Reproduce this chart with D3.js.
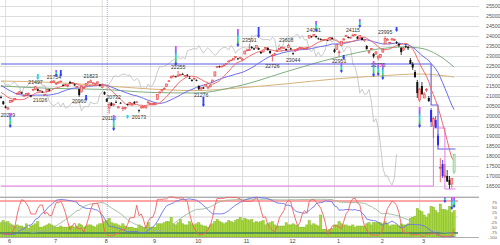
<!DOCTYPE html>
<html><head><meta charset="utf-8">
<script src="https://cdn.jsdelivr.net/npm/d3@7/dist/d3.min.js"></script>
<style>body{margin:0;background:#fff}svg{display:block}text{font-family:"Liberation Sans",Arial,sans-serif}</style>
</head><body>
<svg id="c" width="500" height="245"></svg>
<script>
// ---------- DATA ----------
const monthLabels = ["6","7","8","9","10","11","12","1","2","3"];
const monthStart  = [2,22,44,65,84,105,125,145,164,182];
const priceTicks  = [25500,25000,24500,24000,23500,23000,22500,22000,21500,21000,20500,20000,19500,19000,18500,18000,17500,17000,16500];
const gridPrices  = [25500,25000,24500,24000,23500,23000,22500,22000,21500,21000,20500,20000,19500,19000,18500,18000,17500,17000,16500,16000];
const oscTicks    = [75,50,25,0,-25,-50,-75,-100];

// closes before the visible window (for indicators)
const history = [21025,21125,21504,21290,21287,21451,21584,21567,21608,21627,20977,21428,21378,21033,21205,
21509,21505,21713,21724,21807,21761,21802,21688,21711,21870,22169,22221,22277,22090,22200,22217,22259,22200,22307,22258,
21923,21602,21402,21345,21191,21067,21189,21062,21250,21301,21272,21283,21151,21117,21182,21260,21003];

const open = [20950,20730,20470,20350,20680,20720,20830,21090,21130,21180,21010,21050,21090,21030,21300,21340,21340,21240,21220,21050,21220,21330,
21660,21700,21600,21650,21740,21540,21550,21500,21700,21640,21590,21440,21340,21200,21400,21530,21650,21680,21620,21610,21640,21570,
21430,21200,20850,20400,20660,20560,20700,20400,20660,20400,20390,20600,20600,20570,20700,20680,20300,20400,20460,20400,20660,
20600,20590,20600,20820,21150,21250,21360,21480,21720,21900,22000,21980,21990,22070,22100,22000,22060,21900,21800,
21870,21800,21500,21350,21430,21500,21400,21460,21700,22000,22460,22480,22450,22530,22600,22700,22780,22800,22920,22880,22920,
22800,23100,23290,23280,23450,23380,23400,23400,23200,23200,23400,23400,23250,23000,23100,23230,23340,23420,23400,23350,
23420,23380,23150,23250,23350,23420,23400,23380,23420,23900,23980,24000,24000,23880,23850,23820,23830,23790,23800,23900,
23320,23320,23200,23530,23800,24000,23950,23920,24000,24050,23950,23900,23900,23780,23500,23200,23330,23100,23100,
22900,22950,23200,23600,23800,23650,23800,23800,23700,23600,23400,23300,23500,23450,22800,22600,22200,21700,
20800,21500,20900,21300,20900,20300,19500,19800,19000,17400,17600,17000,17000,16800,16600,17200];
const high = [21020,20760,20530,20440,20800,20800,20900,21190,21260,21220,21080,21140,21180,21060,21360,21497,21380,21300,21260,21110,21350,21360,
21780,21784,21680,21720,21770,21600,21610,21560,21760,21700,21620,21520,21360,21480,21450,21640,21740,21823,21690,21660,21720,21600,
21590,21230,20900,20700,20700,20640,20782,20500,20700,20480,20460,20620,20700,20640,20750,20740,20330,20500,20500,20500,20720,
20650,20660,20660,21100,21230,21330,21430,21620,21800,22020,22040,22010,22255,22110,22160,22050,22100,22000,21850,
21930,21830,21540,21450,21460,21600,21500,21580,21810,22220,22500,22520,22520,22570,22650,22770,22820,22880,22990,22910,22960,
22880,23260,23340,23591,23500,23420,23520,23430,23240,23320,23450,23450,23290,23100,23160,23300,23400,23470,23460,23380,
23608,23420,23180,23320,23400,23460,23440,23420,23460,24050,24000,24091,24020,23920,23890,23850,23860,23810,23930,23950,
23370,23600,23300,23750,23900,24050,23980,23950,24115,24100,24000,24050,23950,23850,23550,23280,23400,23150,23250,
23050,23100,23350,23995,23900,23700,23900,23880,23750,23650,23450,23450,23600,23500,22900,22700,22300,21800,
21400,21700,21200,21400,21000,20400,19960,20000,19100,17900,17800,17600,17300,17000,16900,18100];
const low = [20870,20550,20380,20289,20650,20680,20780,21080,21100,21100,20950,21010,21050,20930,21250,21300,21230,21200,21160,21026,21200,21230,
21640,21660,21560,21630,21680,21490,21490,21430,21620,21590,21500,21420,20960,21180,21350,21500,21640,21660,21590,21580,21600,21480,
21400,21050,20700,20110,20500,20480,20660,20400,20620,20250,20300,20520,20580,20490,20600,20660,20173,20380,20380,20380,20600,
20560,20560,20560,20800,21130,21220,21320,21460,21690,21880,21950,21930,21980,22030,22070,21960,21970,21850,21720,
21820,21740,21300,21276,21350,21480,21350,21440,21680,21990,22420,22420,22440,22490,22570,22680,22740,22790,22890,22800,22850,
22760,23080,23240,23260,23360,23300,23370,23300,23100,23170,23370,23280,23100,22726,23000,23200,23300,23390,23380,23260,
23400,23300,23044,23200,23300,23380,23370,23350,23380,23870,23920,23990,23920,23820,23780,23790,23800,23770,23790,23820,
23150,23300,22951,23510,23790,23950,23880,23880,23990,24010,23850,23880,23780,23700,23330,23100,23300,22890,23050,
22775,22900,23150,23580,23780,23600,23780,23750,23600,23450,23050,23250,23400,23300,22600,22300,21900,20900,
20700,21080,20900,21200,20700,19450,18900,19400,18500,16690,16900,16900,16700,16358,16400,17100];
const close = [20942,20601,20410,20408,20776,20774,20884,21134,21204,21129,21032,21116,21124,20972,21333,21462,21258,21285,21193,21086,21338,21275,
21729,21754,21638,21702,21746,21534,21565,21533,21643,21685,21535,21469,21046,21466,21416,21620,21709,21756,21658,21616,21709,21521,
21540,21087,20720,20585,20516,20593,20684,20455,20655,20405,20418,20563,20677,20618,20628,20710,20261,20456,20479,20460,20704,
20620,20625,20649,21085,21199,21318,21392,21597,21759,21988,22001,21960,22044,22079,22098,22020,22048,21878,21755,
21885,21778,21341,21410,21375,21587,21456,21551,21798,22207,22472,22451,22492,22548,22625,22750,22799,22867,22974,22843,22927,
22850,23251,23303,23330,23391,23331,23520,23319,23141,23303,23416,23292,23148,23038,23112,23292,23373,23437,23409,23293,
23529,23379,23135,23300,23354,23430,23410,23391,23424,24023,23952,24066,23934,23864,23816,23821,23830,23782,23924,23837,
23204,23575,23204,23739,23850,24025,23916,23933,24041,24083,23864,24031,23795,23827,23343,23215,23379,22977,23205,
22971,23084,23319,23873,23827,23685,23861,23827,23687,23523,23193,23400,23479,23386,22605,22426,21948,21142,
21344,21082,21100,21329,20749,19698,19867,19416,18559,17431,17002,17011,16726,16552,16887,18092];
const volume = [13,15,13,14,12,11,10,11,10,10,9,12,8,10,11,12,14,9,9,10,11,12,
11,10,9,9,10,9,9,9,10,10,9,10,12,11,9,10,11,11,10,9,11,12,
12,14,15,17,13,12,12,11,10,12,10,9,9,9,8,8,11,10,9,9,13,
9,9,9,12,12,12,13,14,14,18,12,11,13,16,12,11,11,14,12,
11,12,13,11,10,10,9,11,12,14,16,14,13,12,13,15,14,13,15,16,18,
15,17,16,15,16,13,14,13,14,15,11,12,13,14,11,10,10,10,10,13,
11,11,12,11,10,9,9,9,11,15,11,12,11,10,20,7,7,6,7,8,
11,11,14,12,11,11,10,10,11,9,10,10,10,10,12,13,11,13,13,
13,13,12,14,12,10,11,11,11,10,12,11,11,12,17,18,19,26,
24,23,20,18,21,28,27,24,22,30,25,25,24,28,22,24];

// long moving averages [day index, value]
const ma75Pts  = [[0,21500],[22,21380],[44,21330],[65,21180],[84,21150],[105,21550],[125,22250],[145,22900],[164,23350],[175,23450],[182,23400],[190,23050],[197,22450]];
const ma200Pts = [[0,21750],[22,21680],[44,21520],[65,21350],[84,21270],[105,21420],[125,21620],[145,21850],[164,22000],[182,22100],[197,21950]];
// stepped channel lines [day index, value]
const bandHi = [[0,22600],[187,22600],[187,20550],[190,20550],[190,18350],[197.6,18350]];
const bandLo = [[0,16500],[188,16500],[188,19400],[193,19400],[193,16350],[197.6,16350]];
const blueCandles = [187,189,190,191,192];

// price annotations
const labIdx  = [3,15,23,39,17,34,47,49,60,77,87,108,124,118,127,136,147,153,167,164];
const labText = ["20289","21497","21754","21823","21026","20960","20110","20732","20173","22255","21276","23591","23608","22726","23044","24091","22951","24115","23995","22775"];
const labSide = ["lo","hi","hi","hi","lo","lo","lo","hi","lo","hi","lo","hi","hi","lo","lo","hi","lo","hi","hi","lo"];

// signal markers [day index, top value, bottom value, kind]
const signals = [[4,20150,19400,"r"],[49,20050,19250,"r"],[55,20050,19850,"c"],[16,22100,21800,"c"],[24,22300,21950,"r"],[26,22300,21950,"b"],
[37,21050,20750,"b"],[76,23500,22500,"r"],[88,20950,20450,"b"],[103,24350,23450,"r"],[112,24450,23900,"b"],[137,24750,24200,"r"],
[156,24850,24400,"r"],[172,24450,24200,"b"],[148,22650,22150,"r"],[149,23050,22800,"b"],[162,22750,21950,"r"],[164,22600,22000,"r"],
[166,22600,21800,"r"],[182,20450,19400,"r"]];
const oscSignals = [[193,100,70,"r"],[196,100,35,"r"],[197,100,45,"r"]];

// ---------- CHART ----------
const svg = d3.select("#c");
const N = close.length;
const x  = d3.scaleLinear().domain([0, N-1]).range([1, 454.1]);
const y  = d3.scaleLinear().domain([16000, 25500]).range([196, 6]);
const yo = d3.scaleLinear().domain([-100, 100]).range([237, 197]);
const yv = d3.scaleLinear().domain([0, 30]).range([237, 204]);

const all = history.concat(close);
const H = history.length;
function sma(n){ return close.map((_,i)=>{const t=i+H; return d3.mean(all.slice(t-n+1,t+1));}); }
function rci(n){
  return close.map((_,i)=>{
    const t=i+H; if(t-n+1<0) return null;
    const w=all.slice(t-n+1,t+1);
    const s=w.map((v,k)=>({v,k})).sort((a,b)=>b.v-a.v);
    const pr=new Array(n); let a=0;
    while(a<n){let b=a; while(b+1<n&&s[b+1].v===s[a].v) b++; const r=(a+b)/2+1; for(let q=a;q<=b;q++) pr[s[q].k]=r; a=b+1;}
    let d=0; for(let k=0;k<n;k++){const dr=n-k; d+=(dr-pr[k])**2;}
    return (1-6*d/(n*(n*n-1)))*100;
  });
}

// defs
const defs = svg.append("defs");
const g1 = defs.append("linearGradient").attr("id","rb").attr("x1",0).attr("x2",0).attr("y1",0).attr("y2",1);
[["0%","#ff40ff"],["30%","#7070ff"],["55%","#20e0e0"],["80%","#50d050"],["100%","#3040ff"]].forEach(s=>g1.append("stop").attr("offset",s[0]).attr("stop-color",s[1]));

// grid
const grid = svg.append("g");
grid.selectAll("line.h").data(gridPrices).join("line")
  .attr("x1",0).attr("x2",479).attr("y1",d=>Math.round(y(d))+0.5).attr("y2",d=>Math.round(y(d))+0.5)
  .attr("stroke","#d6d6d6").attr("stroke-width",0.8);
grid.selectAll("line.v").data(monthStart).join("line")
  .attr("x1",d=>x(d)).attr("x2",d=>x(d)).attr("y1",0).attr("y2",237)
  .attr("stroke","#d6d6d6").attr("stroke-width",0.8);
// marker vertical dotted line
svg.append("line").attr("x1",x(46)+0.5).attr("x2",x(46)+0.5).attr("y1",0).attr("y2",237)
  .attr("stroke","#9a8cff").attr("stroke-width",0.8).attr("stroke-dasharray","1,1");

// price axis labels
svg.append("g").selectAll("text").data(priceTicks).join("text")
  .attr("x",486).attr("y",d=>y(d)+2).attr("font-size",5.2).attr("fill","#555").text(d=>d);

// lines
const lineP = d3.line().defined(d=>d[1]!=null).x(d=>x(d[0])).y(d=>y(d[1]));
const curveP = d3.line().x(d=>x(d[0])).y(d=>y(d[1])).curve(d3.curveMonotoneX);
const stepP = d3.line().x(d=>x(d[0])).y(d=>y(d[1]));
const chikou = close.slice(25).map((v,i)=>[i,v]);
svg.append("path").attr("d",lineP(chikou)).attr("fill","none").attr("stroke","#bdbdbd").attr("stroke-width",0.8);
svg.append("path").attr("d",curveP(ma200Pts)).attr("fill","none").attr("stroke","#d7b27a").attr("stroke-width",1);
svg.append("path").attr("d",curveP(ma75Pts)).attr("fill","none").attr("stroke","#7fae7f").attr("stroke-width",1);
svg.append("path").attr("d",stepP(bandHi)).attr("fill","none").attr("stroke","#5a5ae6").attr("stroke-width",1.1);
svg.append("path").attr("d",stepP(bandLo)).attr("fill","none").attr("stroke","#e87ae8").attr("stroke-width",1);
const ma25 = sma(25).map((v,i)=>[i,v]);
const ma10 = sma(10).map((v,i)=>[i,v]);
svg.append("path").attr("d",lineP(ma25)).attr("fill","none").attr("stroke","#6a6af0").attr("stroke-width",1);
svg.append("path").attr("d",lineP(ma10)).attr("fill","none").attr("stroke","#f06a6a").attr("stroke-width",1);

// candles
const cg = svg.append("g");
close.forEach((c,i)=>{
  const o=open[i], up=c>=o, last=i===N-1;
  let col = up ? "#e84848" : (blueCandles.includes(i) ? "#2a2aff" : "#111");
  if(last) col="#6cbf6c";
  const cx=x(i);
  cg.append("line").attr("x1",cx).attr("x2",cx).attr("y1",y(high[i])).attr("y2",y(low[i])).attr("stroke",col).attr("stroke-width",0.8);
  const t=y(Math.max(o,c)), b=y(Math.min(o,c));
  cg.append("rect").attr("x",cx-1).attr("width",2).attr("y",t).attr("height",Math.max(0.8,b-t))
    .attr("fill", last ? "#d8f0d8" : (up ? "#ffb0b0" : col)).attr("stroke",col).attr("stroke-width",up||last?0.6:0);
});

// annotations
svg.append("g").selectAll("text").data(labIdx).join("text")
  .attr("x",(d)=>x(d)).attr("text-anchor","middle")
  .attr("y",(d,i)=> labSide[i]==="hi" ? y(+labText[i])-2 : y(+labText[i])+6.5)
  .attr("font-size",5.2).attr("fill","#333").text((d,i)=>labText[i]);

// signals
function drawSig(g, s, ys){
  const cx=x(s[0]), t=ys(s[1]), b=ys(s[2]);
  const fill = s[3]==="r" ? "url(#rb)" : (s[3]==="c" ? "#20d8e8" : "#3040ff");
  g.append("rect").attr("x",cx-0.9).attr("y",t).attr("width",1.8).attr("height",Math.max(2,b-t-2)).attr("fill",fill);
  g.append("path").attr("d",`M${cx-1.6},${b-2.5}L${cx+1.6},${b-2.5}L${cx},${b}Z`).attr("fill", s[3]==="c"?"#20d8e8":"#3040ff");
}
const sg = svg.append("g");
signals.forEach(s=>drawSig(sg,s,y));

// ---------- LOWER PANEL ----------
const lp = svg.append("g");
lp.append("line").attr("x1",0).attr("x2",479).attr("y1",197.5).attr("y2",197.5).attr("stroke","#9a9a9a").attr("stroke-width",0.8);
lp.append("line").attr("x1",0).attr("x2",458).attr("y1",yo(0)).attr("y2",yo(0)).attr("stroke","#c8c8c8").attr("stroke-width",0.8);
// volume bars
lp.selectAll("rect").data(volume).join("rect")
  .attr("x",(d,i)=>x(i)-1.15).attr("width",2.3).attr("y",d=>yv(d)).attr("height",d=>237-yv(d))
  .attr("fill","#a6d640").attr("stroke","#7fb21c").attr("stroke-width",0.4);
lp.append("line").attr("x1",0).attr("x2",458).attr("y1",yo(80)).attr("y2",yo(80)).attr("stroke","#ff8a8a").attr("stroke-width",1.6);
lp.append("line").attr("x1",0).attr("x2",458).attr("y1",yo(-80)).attr("y2",yo(-80)).attr("stroke","#3e7d5e").attr("stroke-width",1.4);
const lineO = d3.line().defined(d=>d[1]!=null).x(d=>x(d[0])).y(d=>yo(d[1]));
[[52,"#9cb89c"],[26,"#6a72e8"],[9,"#f06060"]].forEach(([n,col])=>{
  const r = rci(n).map((v,i)=>[i,v]);
  lp.append("path").attr("d",lineO(r)).attr("fill","none").attr("stroke",col).attr("stroke-width",0.9);
});
oscSignals.forEach(s=>drawSig(lp,s,yo));
lp.append("line").attr("x1",0).attr("x2",479).attr("y1",237.5).attr("y2",237.5).attr("stroke","#9a9a9a").attr("stroke-width",0.8);
lp.selectAll("text").data(oscTicks).join("text")
  .attr("x",497).attr("text-anchor","end").attr("y",d=>yo(d)+1.6).attr("font-size",4.4).attr("fill","#666").text(d=>d);

// month labels
svg.append("g").selectAll("text").data(monthStart).join("text")
  .attr("x",d=>x(d)+4).attr("y",243).attr("text-anchor","middle").attr("font-size",5.5).attr("fill","#444")
  .text((d,i)=>monthLabels[i]);
</script>
</body></html>
